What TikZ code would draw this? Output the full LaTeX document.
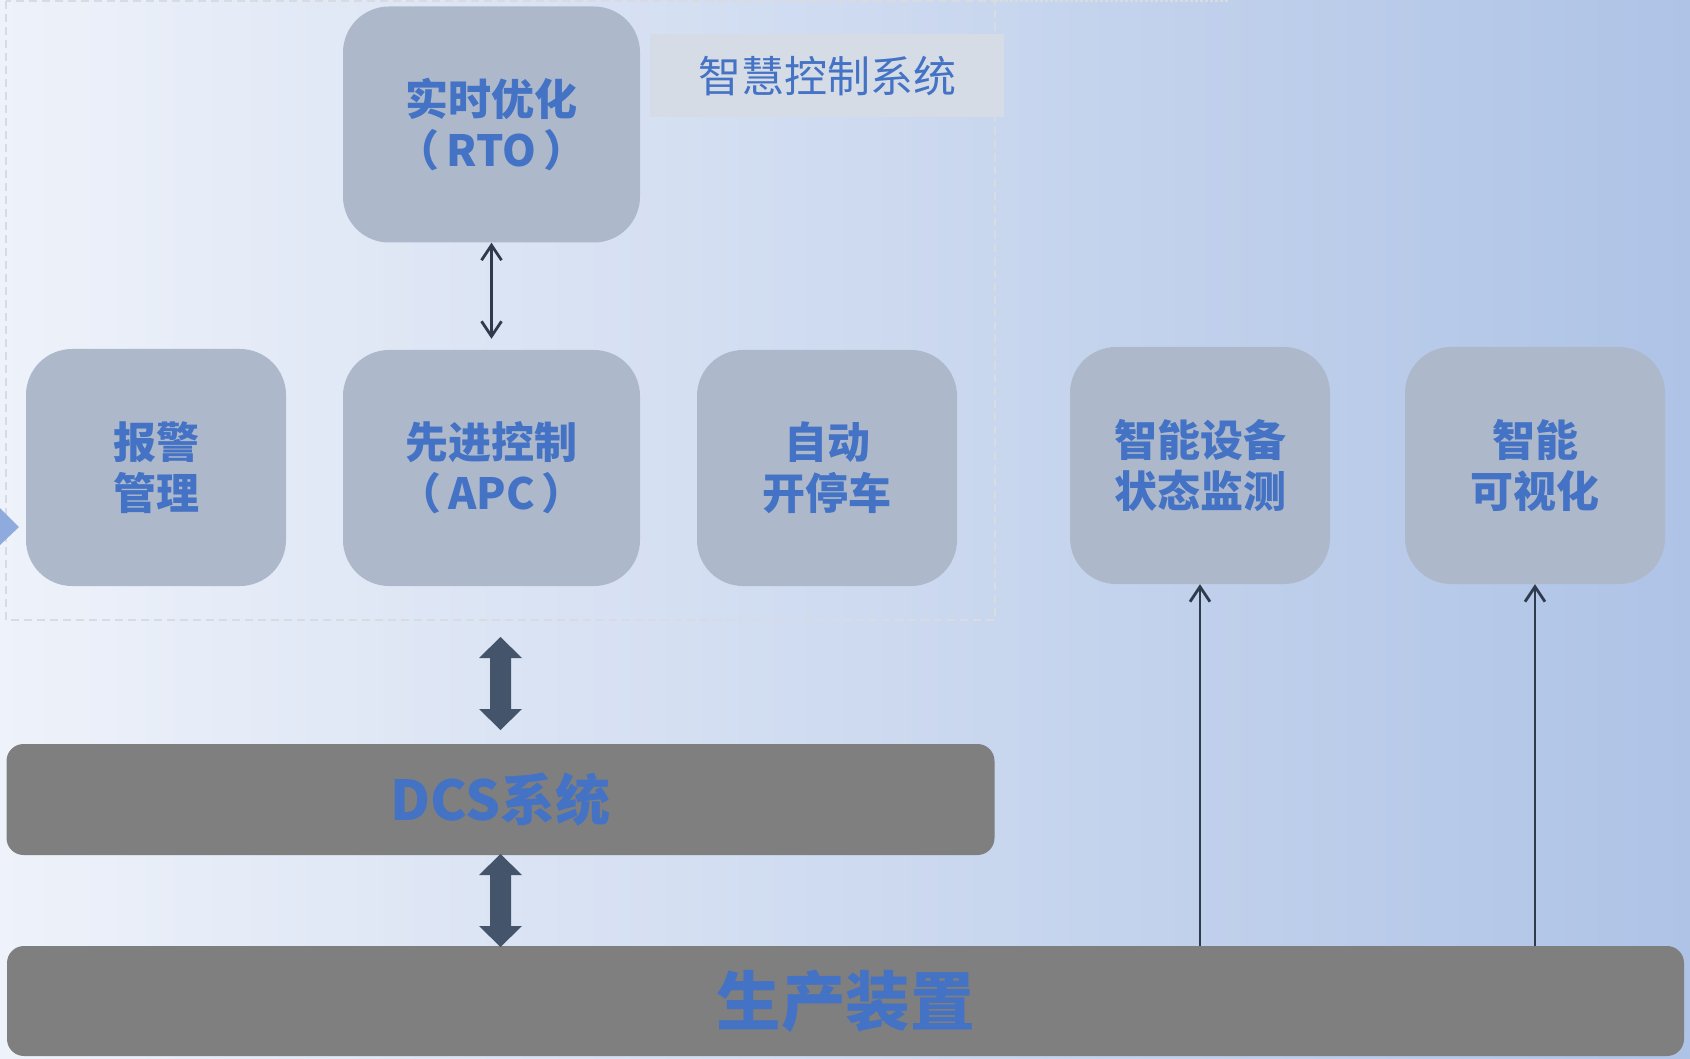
\documentclass[tikz,border=0pt]{standalone}
\usepackage{fontspec}
\newfontfamily\cjk{Noto Sans CJK SC}
\usetikzlibrary{arrows.meta,calc}
\definecolor{bgl}{HTML}{EEF2FA}
\definecolor{bgr}{HTML}{AEC3E6}
\definecolor{boxfill}{HTML}{ADB9CB}
\definecolor{tblue}{HTML}{4472C4}
\definecolor{bargray}{HTML}{7F7F7F}
\definecolor{bigarr}{HTML}{44546A}
\definecolor{thinarr}{HTML}{2F3B4C}
\definecolor{labfill}{HTML}{D5DCE6}
\definecolor{dashgray}{HTML}{D8DBE2}
\definecolor{tri}{HTML}{8FAADC}
\newcommand\dblarrow[3]{% x, ytop, ybot
  \fill[bigarr] (#1,#2) -- ++(21.5,21) -- ++(-11,0) |- ($(#1,#3)+(10.5,-21)$) -- ++(11,0) -- (#1,#3) -- ++(-21.5,-21) -- ++(11,0) |- ($(#1,#2)+(-10.5,21)$) -- ++(-11,0) -- cycle;}
\newcommand\pgap{\hspace{7pt}}
\begin{document}
\begin{tikzpicture}[x=1pt,y=-1pt,
  box/.style={fill=boxfill, rounded corners=46pt, inner sep=0pt, text=tblue, align=center,
    font=\cjk\bfseries\fontsize{43}{51}\selectfont},
  bar/.style={fill=bargray, rounded corners=17pt, inner sep=0pt, text=tblue, font=\cjk\bfseries},
  thinarrow/.style={draw=thinarr, line width=2.8pt, >={Straight Barb[length=15pt,width=20pt]}},
  dashedborder/.style={draw=dashgray, line width=2.8pt, dash pattern=on 8pt off 5pt}]
\useasboundingbox (0,0) rectangle (1690,1059);
\shade[left color=bgl, right color=bgr] (0,0) rectangle (1690,1059);
% dashed frame of the smart control system
\draw[dashedborder] (6,1) rectangle (995,620);
\draw[draw=dashgray, line width=1.5pt, dash pattern=on 3pt off 2pt] (995,1) -- (1229,1);
% label
\node[fill=labfill, minimum width=354pt, minimum height=83pt, inner sep=0pt, text=tblue,
  font=\cjk\fontsize{43}{50}\selectfont] (lab) at (827,76) {智慧控制系统};
% boxes
\node[box, minimum width=297pt, minimum height=236pt] (rto) at (491.5,124.5) {实时优化\\（\pgap RTO\pgap ）};
\node[box, minimum width=260pt, minimum height=237pt] (alarm) at (156,467.5) {报警\\管理};
\node[box, minimum width=297pt, minimum height=236pt] (apc) at (491.5,468) {先进控制\\（\pgap APC\pgap ）};
\node[box, minimum width=260pt, minimum height=236pt] (auto) at (827,468) {自动\\开停车};
\node[box, minimum width=260pt, minimum height=237pt] (sdm) at (1200,465.5) {智能设备\\状态监测};
\node[box, minimum width=260pt, minimum height=237pt] (viz) at (1535,465.5) {智能\\可视化};
% bars
\node[bar, minimum width=988pt, minimum height=111pt, font=\cjk\bfseries\fontsize{55}{62}\selectfont] (dcs) at (500.5,799.5) {DCS系统};
\node[bar, minimum width=1677pt, minimum height=110pt, font=\cjk\bfseries\fontsize{64.5}{72}\selectfont] (prod) at (845.5,1001) {生产装置};
% left marker
\fill[tri] (0,508) -- (19,527) -- (0,545) -- cycle;
% thin arrows
\draw[thinarrow, <->, shorten >=11pt] (rto.south) -- (apc.north);
\draw[thinarrow, ->] (prod.north -| sdm.south) -- (sdm.south);
\draw[thinarrow, ->] (prod.north -| viz.south) -- (viz.south);
% big double arrows
\dblarrow{500.5}{637}{730}
\dblarrow{500.5}{854}{947}
\end{tikzpicture}
\end{document}
